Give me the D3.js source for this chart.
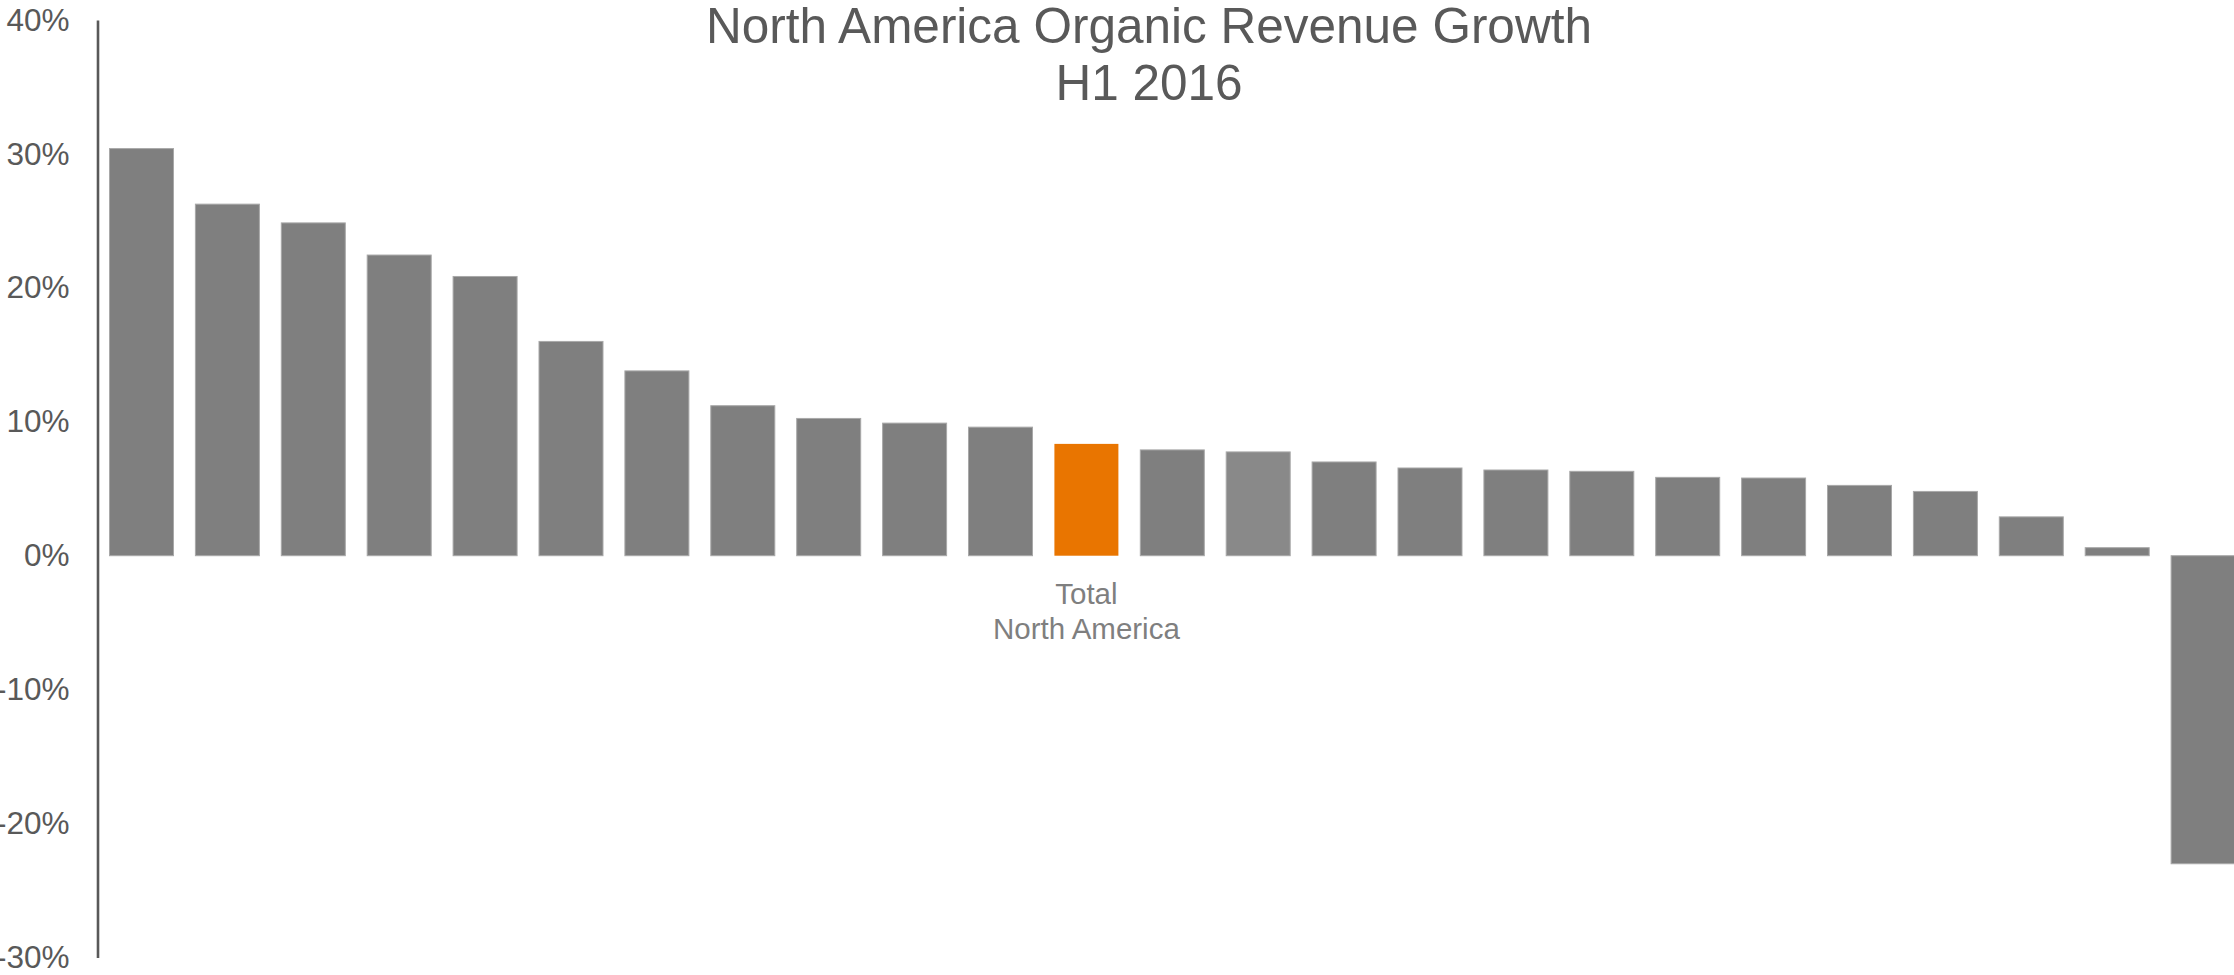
<!DOCTYPE html>
<html>
<head>
<meta charset="utf-8">
<script src="https://cdn.jsdelivr.net/npm/d3@7/dist/d3.min.js"></script>
<style>
  html, body { margin: 0; padding: 0; background: #ffffff; overflow: hidden; }
  svg { display: block; font-family: "Liberation Sans", Arial, sans-serif; }
</style>
</head>
<body>
<svg id="chart" width="2234" height="975"></svg>
<script>
// Business units, sorted by organic revenue growth (H1 2016, percent)
const categories = [
  "Unit A", "Unit B", "Unit C", "Unit D", "Unit E", "Unit F", "Unit G",
  "Unit H", "Unit I", "Unit J", "Unit K", "Total North America", "Unit L",
  "Unit M", "Unit N", "Unit O", "Unit P", "Unit Q", "Unit R", "Unit S",
  "Unit T", "Unit U", "Unit V", "Unit W", "Unit X"
];
const growth = [
  30.4, 26.25, 24.85, 22.45, 20.85, 16.0, 13.8, 11.2, 10.25, 9.9, 9.6, 8.35,
  7.9, 7.75, 7.0, 6.55, 6.4, 6.3, 5.85, 5.8, 5.25, 4.8, 2.9, 0.6, -23.0
];
const yTicks = [-30, -20, -10, 0, 10, 20, 30, 40];
const totalLabel = ["Total", "North America"];
const titleLines = ["North America Organic Revenue Growth", "H1 2016"];

const svg = d3.select("#chart");

const x = d3.scaleBand()
  .domain(categories)
  .range([97, 2247.6])
  .paddingInner(0.255)
  .paddingOuter(0.1455);

const y = d3.scaleLinear()
  .domain([-30, 40])
  .range([957.5, 20]);

// Bars
svg.append("g")
  .selectAll("rect")
  .data(categories.map((c, i) => ({ c, v: growth[i] })))
  .join("rect")
  .attr("x", d => x(d.c))
  .attr("width", x.bandwidth())
  .attr("y", d => y(Math.max(0, d.v)))
  .attr("height", d => Math.abs(y(d.v) - y(0)))
  .attr("fill", d => d.c === "Total North America" ? "#E97500" : (d.c === "Unit M" ? "#898989" : "#7f7f7f"))
  .attr("stroke", d => d.c === "Total North America" ? "none" : "#a8a8a8")
  .attr("stroke-width", 1);

// Y axis
const yAxis = d3.axisLeft(y)
  .tickValues(yTicks)
  .tickSize(0)
  .tickPadding(28)
  .tickFormat(d => d + "%");

const gy = svg.append("g")
  .attr("transform", "translate(97.5,0)")
  .call(yAxis);
gy.select(".domain")
  .attr("stroke", "#595959")
  .attr("stroke-width", 2.6);
gy.selectAll("text")
  .attr("fill", "#595959")
  .attr("font-size", 31.5)
  .attr("font-family", "'Liberation Sans', Arial, sans-serif");

// Label under the total bar
const tx = x("Total North America") + x.bandwidth() / 2;
svg.append("text")
  .attr("x", tx)
  .attr("y", 604)
  .attr("text-anchor", "middle")
  .attr("fill", "#7f7f7f")
  .attr("font-size", 29.5)
  .selectAll("tspan")
  .data(totalLabel)
  .join("tspan")
  .attr("x", tx)
  .attr("dy", (d, i) => i === 0 ? 0 : 35)
  .text(d => d);

// Title
svg.append("text")
  .attr("x", 1149)
  .attr("y", 43)
  .attr("text-anchor", "middle")
  .attr("fill", "#595959")
  .attr("font-size", 49.5)
  .selectAll("tspan")
  .data(titleLines)
  .join("tspan")
  .attr("x", 1149)
  .attr("dy", (d, i) => i === 0 ? 0 : 57)
  .text(d => d);
</script>
</body>
</html>
